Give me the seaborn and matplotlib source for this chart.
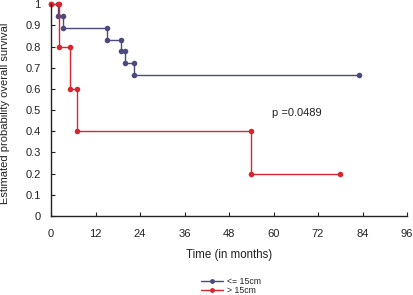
import matplotlib
matplotlib.use("Agg")
import matplotlib.pyplot as plt
import seaborn as sns
import pandas as pd
from matplotlib.ticker import FuncFormatter, MultipleLocator
from matplotlib.lines import Line2D

# Data (Kaplan-Meier steps)
group_names = ["<= 15cm", "> 15cm"]
blue_times = [2, 3.2, 15.2, 19, 20, 22.3]
blue_surv = [0.944, 0.889, 0.833, 0.778, 0.722, 0.667]
blue_end = 83
red_times = [2.1, 5, 7, 54]
red_surv = [0.8, 0.6, 0.4, 0.2]
red_end = 78
p_text = "p =0.0489"
x_ticks = [0, 12, 24, 36, 48, 60, 72, 84, 96]
colors = ["#4a4a7c", "#d8262e"]

def km_vertices(times, surv, end):
    xs, ys = [0], [1.0]
    prev = 1.0
    for t, s in zip(times, surv):
        xs += [t, t]
        ys += [prev, s]
        prev = s
    xs.append(end)
    ys.append(prev)
    return xs, ys

rows = []
for name, (t, s, e) in zip(group_names, [(blue_times, blue_surv, blue_end), (red_times, red_surv, red_end)]):
    xs, ys = km_vertices(t, s, e)
    for i, (x, y) in enumerate(zip(xs, ys)):
        rows.append({"group": name, "time": x, "surv": y, "order": i})
df = pd.DataFrame(rows)

sns.set_style("ticks")
plt.rcParams["font.family"] = ["Liberation Sans", "DejaVu Sans"]

fig = plt.figure(figsize=(4.13, 2.95), dpi=100)
ax = fig.add_axes([51 / 413, 1 - 216 / 295, 356 / 413, 211.7 / 295])

sns.lineplot(data=df, x="time", y="surv", hue="group", palette=colors, sort=False,
             estimator=None, marker="o", markersize=4, markeredgewidth=0,
             linewidth=1, ax=ax, legend=False)
for ln in ax.lines:
    ln.set_clip_on(False)

ax.set_xlim(0, 96)
ax.set_ylim(0, 1)
ax.set_xticks(x_ticks)
ax.yaxis.set_major_locator(MultipleLocator(0.1))
ax.yaxis.set_major_formatter(FuncFormatter(lambda v, p: f"{round(v, 1):g}"))
ax.tick_params(direction="in", length=3, width=0.8, labelsize=8, colors="#222222")
ax.tick_params(axis="x", pad=9.5)
ax.tick_params(axis="y", pad=7.5)
for side in ["top", "right"]:
    ax.spines[side].set_visible(False)
for side in ["left", "bottom"]:
    ax.spines[side].set_color("#222222")
    ax.spines[side].set_linewidth(1)

ax.set_xlabel("Time (in months)", fontsize=8.3, color="#222222")
ax.set_ylabel("Estimated probability overall survival", fontsize=8, color="#222222")
ax.xaxis.set_label_coords(0.5, -0.155)
ax.yaxis.set_label_coords(-0.114, 0.485)

ax.text(59.5, 0.487, p_text, fontsize=8, color="#222222", va="center", ha="left")

handles = [Line2D([0], [0], color=c, lw=1, marker="o", markersize=3.5, markeredgewidth=0) for c in colors]
fig.legend(handles, group_names, loc="center", bbox_to_anchor=(0.559, 0.0305), frameon=False,
           fontsize=6.3, handlelength=2.5, handletextpad=0.45, labelspacing=0.0, borderpad=0)

fig.savefig("out.png", dpi=100)
